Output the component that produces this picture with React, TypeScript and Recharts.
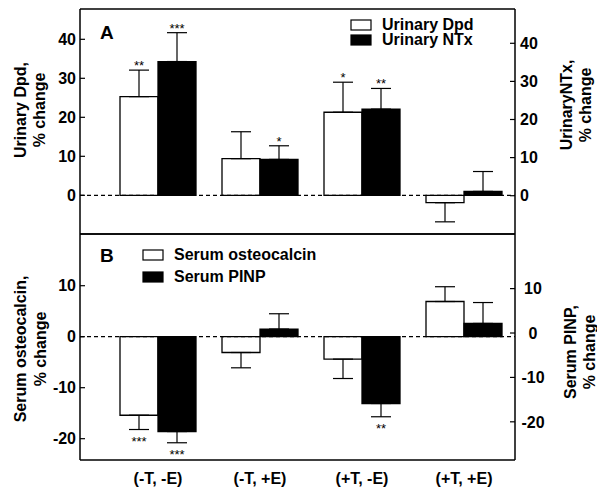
import React from 'react';
import { ComposedChart, Bar, Line, XAxis, YAxis, ErrorBar, ReferenceLine, LabelList, Legend } from 'recharts';

const groups = ['(-T, -E)', '(-T, +E)', '(+T, -E)', '(+T, +E)'];

// panel A - urinary markers
const dpd = [25.3, 9.4, 21.3, -1.9];
const dpdErr = [6.8, 6.9, 7.7, 4.9];
const dpdSig = ['**', '', '*', ''];
const ntx = [34.3, 9.2, 22.1, 1.0];
const ntxErr = [7.4, 3.5, 5.3, 5.1];
const ntxSig = ['***', '*', '**', ''];
const ticksA = [0, 10, 20, 30, 40];

// panel B - serum markers
const osteo = [-15.4, -3.1, -4.4, 6.9];
const osteoErr = [2.8, 3.0, 3.8, 2.9];
const osteoSig = ['***', '', '', ''];
const pinp = [-18.6, 1.5, -13.1, 2.6];
const pinpErr = [2.2, 3.0, 2.6, 4.1];
const pinpSig = ['***', '', '**', ''];
const ticksB = [-20, -10, 0, 10];

const FONT = '"Liberation Sans", Arial, Helvetica, sans-serif';

// error bars only point away from zero
const oneSide = (v: number, e: number) => (v >= 0 ? [0, e] : [e, 0]);

const dataA = groups.map((g, i) => ({
  group: g,
  dpd: dpd[i],
  dpdErr: oneSide(dpd[i], dpdErr[i]),
  dpdSig: dpdSig[i],
  ntx: ntx[i],
  ntxErr: oneSide(ntx[i], ntxErr[i]),
  ntxSig: ntxSig[i],
}));

const dataB = groups.map((g, i) => ({
  group: g,
  osteo: osteo[i],
  osteoErr: oneSide(osteo[i], osteoErr[i]),
  osteoSig: osteoSig[i],
  pinp: pinp[i],
  pinpErr: oneSide(pinp[i], pinpErr[i]),
  pinpSig: pinpSig[i],
}));

// asterisks placed past the end of the error bar
const sigLabel = (vals: number[], errs: number[]) => (props: any) => {
  const { value, index } = props;
  if (!value) return null;
  const vb = props.viewBox || props;
  const x = Number(vb.x), y = Number(vb.y), w = Number(vb.width), h = Number(vb.height);
  const v = vals[index];
  const top = Math.min(y, y + h);
  const bottom = Math.max(y, y + h);
  const ppu = Math.abs(h) / Math.abs(v);
  const ty = v >= 0 ? top - errs[index] * ppu : bottom + errs[index] * ppu + 16;
  return (
    <text x={x + w / 2} y={ty} textAnchor="middle" fontSize={13} fontFamily={FONT} fill="#000">
      {value}
    </text>
  );
};

const leftTick = (props: any) => {
  const { x, y, payload } = props;
  return (
    <g>
      <line x1={x} x2={x + 5} y1={y} y2={y} stroke="#000" strokeWidth={1.2} />
      <text x={x - 4} y={y} dy="0.36em" textAnchor="end" fontSize={16} fontWeight="bold" fontFamily={FONT} fill="#000">
        {payload.value}
      </text>
    </g>
  );
};

const rightTick = (anchor: 'start' | 'middle', dx: number) => (props: any) => {
  const { x, y, payload } = props;
  return (
    <g>
      <line x1={x} x2={x - 5} y1={y} y2={y} stroke="#000" strokeWidth={1.2} />
      <text x={x + dx} y={y} dy="0.36em" textAnchor={anchor} fontSize={16} fontWeight="bold" fontFamily={FONT} fill="#000">
        {payload.value}
      </text>
    </g>
  );
};

const groupTick = (props: any) => {
  const { x, y, payload } = props;
  return (
    <text x={x} y={y + 24} textAnchor="middle" fontSize={16} fontWeight="bold" fontFamily={FONT} fill="#000">
      {payload.value}
    </text>
  );
};

const legendBox = (names: string[], pitch: number) => () => (
  <svg width={230} height={pitch + 18} style={{ display: 'block', overflow: 'visible' }}>
    {names.map((n, i) => (
      <g key={n}>
        <rect x={1} y={1 + i * pitch} width={20} height={10} fill={i === 0 ? '#fff' : '#000'} stroke="#000" strokeWidth={1.2} />
        <text x={32} y={11 + i * pitch} fontSize={16} fontWeight="bold" fontFamily={FONT} fill="#000">
          {n}
        </text>
      </g>
    ))}
  </svg>
);

const frame = { stroke: '#000', strokeWidth: 1.5 };

export default function App() {
  return (
    <div style={{ position: 'absolute', left: 0, top: 0, width: 597, height: 490, background: '#fff' }}>
      <div style={{ position: 'absolute', left: 0, top: 0 }}>
        <ComposedChart width={597} height={240} data={dataA} margin={{ top: 8, right: 52, bottom: 5, left: 50 }} barGap={0} barSize={38}>
          <XAxis dataKey="group" padding={{ left: 27, right: 0 }} tick={false} tickLine={false} height={1} axisLine={frame} />
          <XAxis xAxisId="t" dataKey="group" orientation="top" padding={{ left: 27, right: 0 }} tick={false} tickLine={false} height={1} axisLine={frame} />
          <YAxis yAxisId="l" width={30} domain={[-9.92, 47.77]} ticks={ticksA} tickSize={0} tickMargin={0} tickLine={false} tick={leftTick} axisLine={frame} />
          <YAxis yAxisId="r" orientation="right" width={30} domain={[-10.05, 49.0]} ticks={ticksA} tickSize={0} tickMargin={0} tickLine={false} tick={rightTick('start', 5)} axisLine={frame} />
          <ReferenceLine yAxisId="l" y={0} stroke="#000" strokeWidth={1.2} strokeDasharray="4 3" />
          <Bar yAxisId="l" dataKey="dpd" name="Urinary Dpd" fill="#fff" stroke="#000" strokeWidth={1.3} isAnimationActive={false}>
            <ErrorBar dataKey="dpdErr" width={10} stroke="#000" strokeWidth={1.2} />
            <LabelList dataKey="dpdSig" content={sigLabel(dpd, dpdErr)} />
          </Bar>
          <Bar yAxisId="l" dataKey="ntx" name="Urinary NTx" fill="#000" stroke="#000" strokeWidth={1.3} isAnimationActive={false}>
            <ErrorBar dataKey="ntxErr" width={10} stroke="#000" strokeWidth={1.2} />
            <LabelList dataKey="ntxSig" content={sigLabel(ntx, ntxErr)} />
          </Bar>
          {/* invisible series so the right and top axes get drawn */}
          <Line xAxisId="t" yAxisId="r" dataKey="ntx" stroke="none" dot={false} activeDot={false} legendType="none" isAnimationActive={false} />
          <Legend layout="horizontal" verticalAlign="middle" align="center" content={legendBox(['Urinary Dpd', 'Urinary NTx'], 15)} wrapperStyle={{ left: 350, top: 19, width: 230 }} />
        </ComposedChart>
      </div>
      <div style={{ position: 'absolute', left: 0, top: 228 }}>
        <ComposedChart width={597} height={262} data={dataB} margin={{ top: 5, right: 52, bottom: 0, left: 50 }} barGap={0} barSize={38}>
          <XAxis dataKey="group" padding={{ left: 27, right: 0 }} tick={groupTick} tickLine={false} tickSize={0} tickMargin={0} height={30} axisLine={frame} interval={0} />
          <XAxis xAxisId="t" dataKey="group" orientation="top" padding={{ left: 27, right: 0 }} tick={false} tickLine={false} height={1} axisLine={frame} />
          <YAxis yAxisId="l" width={30} domain={[-24.18, 20.14]} ticks={ticksB} tickSize={0} tickMargin={0} tickLine={false} tick={leftTick} axisLine={frame} />
          <YAxis yAxisId="r" orientation="right" width={30} domain={[-28.6, 22.3]} ticks={ticksB} tickSize={0} tickMargin={0} tickLine={false} tick={rightTick('middle', 18)} axisLine={frame} />
          <ReferenceLine yAxisId="l" y={0} stroke="#000" strokeWidth={1.2} strokeDasharray="4 3" />
          <Bar yAxisId="l" dataKey="osteo" name="Serum osteocalcin" fill="#fff" stroke="#000" strokeWidth={1.3} isAnimationActive={false}>
            <ErrorBar dataKey="osteoErr" width={10} stroke="#000" strokeWidth={1.2} />
            <LabelList dataKey="osteoSig" content={sigLabel(osteo, osteoErr)} />
          </Bar>
          <Bar yAxisId="l" dataKey="pinp" name="Serum PINP" fill="#000" stroke="#000" strokeWidth={1.3} isAnimationActive={false}>
            <ErrorBar dataKey="pinpErr" width={10} stroke="#000" strokeWidth={1.2} />
            <LabelList dataKey="pinpSig" content={sigLabel(pinp, pinpErr)} />
          </Bar>
          <Line xAxisId="t" yAxisId="r" dataKey="pinp" stroke="none" dot={false} activeDot={false} legendType="none" isAnimationActive={false} />
          <Legend layout="horizontal" verticalAlign="middle" align="center" content={legendBox(['Serum osteocalcin', 'Serum PINP'], 22)} wrapperStyle={{ left: 142, top: 21, width: 230 }} />
        </ComposedChart>
      </div>
      <svg width={597} height={490} style={{ position: 'absolute', left: 0, top: 0, pointerEvents: 'none' }} fontFamily={FONT} fontWeight="bold" fill="#000">
        <text x={100} y={38.5} fontSize={19}>A</text>
        <text x={100} y={262} fontSize={19}>B</text>
        <g fontSize={16} textAnchor="middle" dominantBaseline="central">
          <text transform="translate(20,110) rotate(-90)">Urinary Dpd,</text>
          <text transform="translate(39,110) rotate(-90)">% change</text>
          <text transform="translate(566,105) rotate(-90)">UrinaryNTx,</text>
          <text transform="translate(585,105) rotate(-90)">% change</text>
          <text transform="translate(20,349) rotate(-90)">Serum osteocalcin,</text>
          <text transform="translate(40,349) rotate(-90)">% change</text>
          <text transform="translate(570,352) rotate(-90)">Serum PINP,</text>
          <text transform="translate(589,352) rotate(-90)">% change</text>
        </g>
      </svg>
    </div>
  );
}
